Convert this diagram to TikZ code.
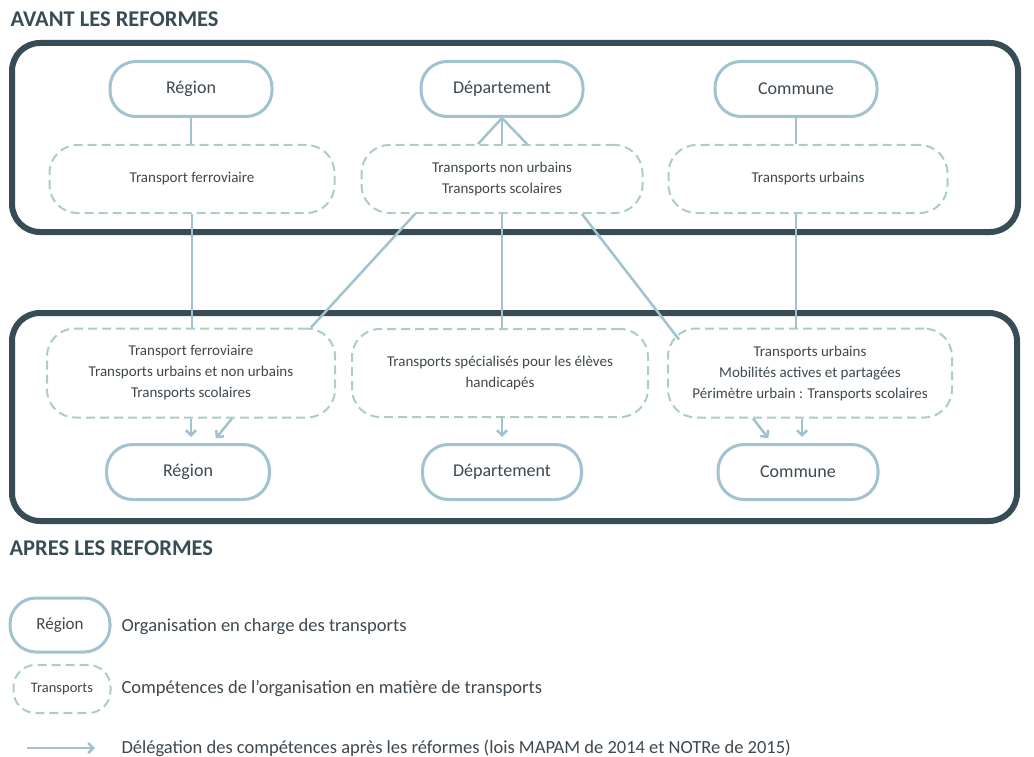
\documentclass[tikz,border=0pt]{standalone}
\usepackage{fontspec}
\setmainfont{Carlito}
\usepackage{tikz}
\usetikzlibrary{arrows.meta,positioning,calc}
\definecolor{framecol}{RGB}{55,76,84}
\definecolor{orgblue}{RGB}{160,195,207}
\definecolor{compgreen}{RGB}{172,205,194}
\definecolor{txtcol}{RGB}{62,72,78}
\tikzset{
  orgbox/.style={draw=orgblue, line width=3pt, rounded corners=26pt, minimum width=162pt, minimum height=55pt, text=txtcol, font=\fontsize{18}{21}\selectfont},
  compbox/.style={draw=compgreen, line width=2pt, dash pattern=on 9pt off 5pt, rounded corners=28pt, minimum width=285pt, minimum height=68pt, align=center, text=txtcol, font=\fontsize{15}{21}\selectfont},
  bigframe/.style={draw=framecol, line width=6pt, rounded corners=28pt},
  link/.style={draw=orgblue, line width=2.5pt},
  deleg/.style={link, -{Straight Barb[length=5pt,width=10pt]}, shorten >=6pt},
  title/.style={anchor=west, text=framecol, font=\fontsize{22.5}{26}\selectfont\bfseries},
  legtext/.style={anchor=west, text=txtcol, font=\fontsize{18.5}{21}\selectfont}
}
\begin{document}
\begin{tikzpicture}[x=1pt,y=-1pt]
\useasboundingbox (0,0) rectangle (1034,757);
% cadres
\draw[bigframe] (12,43) rectangle (1018,232);
\draw[bigframe] (12,313) rectangle (1017,521);
\node[title] (avant) at (7,19) {AVANT LES REFORMES};
\node[title] (apres) at (6,548) {APRES LES REFORMES};

% avant les reformes
\node[orgbox] (regA) at (191,89) {Région};
\node[orgbox] (depA) at (502,89) {Département};
\node[orgbox] (comA) at (796,89) {Commune};
\node[compbox] (compRegA) at (192,179) {Transport ferroviaire};
\node[compbox, minimum width=281pt] (compDepA) at (502,179) {Transports non urbains\\Transports scolaires};
\node[compbox, minimum width=279pt] (compComA) at (808,179) {Transports urbains};

% apres les reformes
\node[compbox, minimum width=288pt, minimum height=89pt] (compRegB) at (191,373) {Transport ferroviaire\\Transports urbains et non urbains\\Transports scolaires};
\node[compbox, minimum width=296pt, minimum height=88pt] (compDepB) at (500,373) {Transports spécialisés pour les élèves\\handicapés};
\node[compbox, minimum width=284pt, minimum height=89pt] (compComB) at (810,373) {Transports urbains\\Mobilités actives et partagées\\Périmètre urbain : Transports scolaires};
\node[orgbox, minimum width=163pt] (regB) at (188,472) {Région};
\node[orgbox, minimum width=159pt] (depB) at (502,472) {Département};
\node[orgbox, minimum width=160pt] (comB) at (798,472) {Commune};

% liens avant
\draw[link] (regA.south) -- (regA.south |- compRegA.north);
\draw[link] (depA.south) -- ([xshift=-24pt]compDepA.north);
\draw[link] (depA.south) -- (depA.south |- compDepA.north);
\draw[link] (depA.south) -- ([xshift=25pt]compDepA.north);
\draw[link] (comA.south) -- (comA.south |- compComA.north);

% liens entre les deux
\draw[link] (compRegA.south) -- (compRegA.south |- compRegB.north);
\draw[link] ([xshift=-87pt]compDepA.south) -- ([xshift=120pt]compRegB.north);
\draw[link] (compDepA.south) -- (compDepA.south |- compDepB.north);
\draw[link] ([xshift=80pt]compDepA.south) -- ([shift={(12pt,-12pt)}]compComB.north west);
\draw[link] (comA.south |- compComA.south) -- (comA.south |- compComB.north);

% delegations
\draw[deleg] (compRegB.south) -- (compRegB.south |- regB.north);
\draw[deleg] ([xshift=41pt]compRegB.south) -- ([xshift=24pt]regB.north);
\draw[deleg] ([xshift=2pt]compDepB.south) -- (depB.north);
\draw[deleg] ([xshift=-57pt]compComB.south) -- ([xshift=-26pt]comB.north);
\draw[deleg] ([xshift=-8pt]compComB.south) -- ([xshift=4pt]comB.north);

% legende
\node[orgbox, minimum width=100pt, minimum height=54pt, font=\fontsize{17}{20}\selectfont] (legReg) at (60,625) {Région};
\node[compbox, minimum width=97pt, minimum height=48pt, font=\fontsize{14.5}{17}\selectfont, rounded corners=22pt] (legComp) at (62,689) {Transports};
\coordinate (legA) at (27,748);
\coordinate (legB) at (95,748);
\draw[link, -{Straight Barb[length=5pt,width=10pt]}] (legA) -- (legB);
\node[legtext] (legRegTxt) at (118,627) {Organisation en charge des transports};
\node[legtext] (legCompTxt) at (118,689) {Compétences de l’organisation en matière de transports};
\node[legtext] (legArrTxt) at (118,748) {Délégation des compétences après les réformes (lois MAPAM de 2014 et NOTRe de 2015)};
\end{tikzpicture}
\end{document}
